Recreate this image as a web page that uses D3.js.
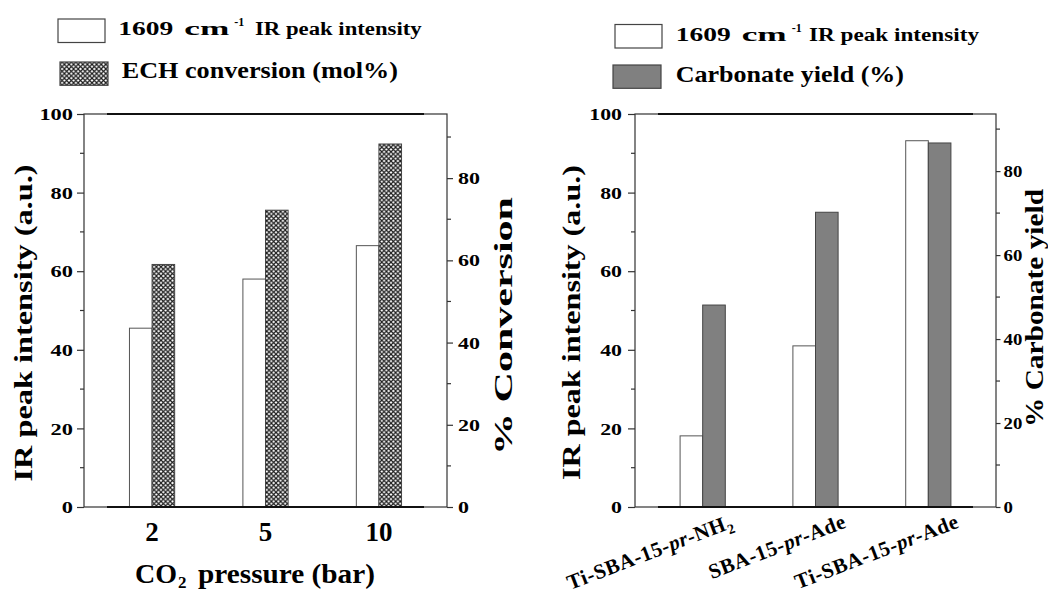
<!DOCTYPE html>
<html><head><meta charset="utf-8">
<script src="https://cdn.jsdelivr.net/npm/d3@7"></script>
<style>
body{margin:0;background:#fff;}
svg{display:block;}
text{font-family:"Liberation Serif","Times New Roman",serif;font-weight:bold;fill:#000;}
</style></head><body>
<svg id="c" width="1048" height="596"></svg>
<script>
// ---- data ----
const pressures = ["2", "5", "10"];
const irByPressure = [45.5, 58.0, 66.5];
const conversion = [59.0, 72.2, 88.3];
const samples = ["Ti-SBA-15-pr-NH2", "SBA-15-pr-Ade", "Ti-SBA-15-pr-Ade"];
const irBySample = [18.1, 41.0, 93.2];
const carbonateYield = [48.1, 70.2, 86.7];
const irTicks = [0, 20, 40, 60, 80, 100];
const irMinorTicks = [10, 30, 50, 70, 90];
const pctTicks = [0, 20, 40, 60, 80];
const pctMinorTicks = [10, 30, 50, 70, 90];

const svg = d3.select("#c");
const defs = svg.append("defs");
const P = 4.6;
const pat = defs.append("pattern").attr("id", "hatch").attr("patternUnits", "userSpaceOnUse")
  .attr("width", P).attr("height", P);
pat.append("rect").attr("width", P).attr("height", P).attr("fill", "#fff");
pat.append("path").attr("d", `M0,0L${P},${P}M${P},0L0,${P}`).attr("stroke", "#1a1a1a").attr("stroke-width", 1.15);

const frameColor = "#333";

function panel(cfg) {
  const g = svg.append("g");
  const x = d3.scalePoint().domain(cfg.cats).range([cfg.x0, cfg.x1]).padding(0.6);
  const yL = d3.scaleLinear().domain([0, 100]).range([cfg.y1, cfg.y0]);
  const yR = d3.scaleLinear().domain([0, cfg.rMax]).range([cfg.y1, cfg.y0]);
  const bw = 22.6;

  // bars
  g.selectAll(".b1").data(cfg.cats).join("rect")
    .attr("x", d => x(d) - bw).attr("width", bw)
    .attr("y", (d, i) => yL(cfg.v1[i])).attr("height", (d, i) => yL(0) - yL(cfg.v1[i]))
    .attr("fill", "#fff").attr("stroke", "#555").attr("stroke-width", 1);
  g.selectAll(".b2").data(cfg.cats).join("rect")
    .attr("x", d => x(d)).attr("width", bw)
    .attr("y", (d, i) => yR(cfg.v2[i])).attr("height", (d, i) => yR(0) - yR(cfg.v2[i]))
    .attr("fill", cfg.fill2).attr("stroke", "#444").attr("stroke-width", 1);

  // frame
  g.append("rect").attr("x", cfg.x0).attr("y", cfg.y0).attr("width", cfg.x1 - cfg.x0).attr("height", cfg.y1 - cfg.y0)
    .attr("fill", "none").attr("stroke", frameColor).attr("stroke-width", 1.2);
  [cfg.y0, cfg.y1].forEach(yy => g.append("line").attr("x1", cfg.x0 + 23).attr("x2", cfg.x1 - 23)
    .attr("y1", yy).attr("y2", yy).attr("stroke", "#111").attr("stroke-width", 2));

  // left axis
  const la = g.append("g").attr("transform", `translate(${cfg.x0},0)`)
    .call(d3.axisLeft(yL).tickValues(irTicks).tickSize(7).tickPadding(cfg.lPad));
  la.select(".domain").remove();
  la.selectAll("line").attr("stroke", frameColor).attr("stroke-width", 1.2);
  la.selectAll("text").attr("font-size", 17.5).style("font-family", "Liberation Serif").style("font-weight", "bold")
    .attr("textLength", d => String(d).length * cfg.lCh).attr("lengthAdjust", "spacingAndGlyphs");
  g.append("g").selectAll("line").data(irMinorTicks).join("line")
    .attr("x1", cfg.x0 - 4).attr("x2", cfg.x0).attr("y1", d => yL(d)).attr("y2", d => yL(d))
    .attr("stroke", frameColor).attr("stroke-width", 1.2);

  // right axis
  const ra = g.append("g").attr("transform", `translate(${cfg.x1},0)`)
    .call(d3.axisRight(yR).tickValues(pctTicks).tickSize(cfg.rTick).tickPadding(cfg.rPad));
  ra.select(".domain").remove();
  ra.selectAll("line").attr("stroke", frameColor).attr("stroke-width", 1.2);
  ra.selectAll("text").attr("font-size", 17.5).style("font-family", "Liberation Serif").style("font-weight", "bold")
    .attr("textLength", d => String(d).length * cfg.rCh).attr("lengthAdjust", "spacingAndGlyphs");
  g.append("g").selectAll("line").data(pctMinorTicks).join("line")
    .attr("x1", cfg.x1).attr("x2", cfg.x1 + 4).attr("y1", d => yR(d)).attr("y2", d => yR(d))
    .attr("stroke", frameColor).attr("stroke-width", 1.2);
  return { g, x };
}

const left = panel({ cats: pressures, v1: irByPressure, v2: conversion, fill2: "url(#hatch)",
  x0: 84, x1: 447, y0: 114, y1: 507, rMax: 95.6, lPad: 4, lCh: 11.2, rTick: 6, rPad: 5, rCh: 11 });
const right = panel({ cats: samples, v1: irBySample, v2: carbonateYield, fill2: "#808080",
  x0: 635, x1: 996, y0: 114, y1: 507, rMax: 93.6, lPad: 6, lCh: 10.9, rTick: 4.5, rPad: 3, rCh: 9.4 });

// x tick labels, left panel
left.g.selectAll(".xl").data(pressures).join("text")
  .attr("x", d => left.x(d)).attr("y", 541).attr("text-anchor", "middle")
  .attr("font-size", 27).text(d => d);

// x tick labels, right panel (rotated, italic "pr", subscript digit)
right.g.selectAll(".xl").data(samples).join("text")
  .attr("text-anchor", "end").attr("font-size", 21).attr("letter-spacing", 0.6)
  .attr("transform", d => `translate(${right.x(d) + 32},527) rotate(-21)`)
  .each(function (d) {
    const t = d3.select(this);
    const parts = d.split("pr");
    t.append("tspan").text(parts[0]);
    t.append("tspan").attr("font-style", "italic").text("pr");
    const m = parts[1].match(/^(.*?)(\d)$/);
    if (m) {
      t.append("tspan").text(m[1]);
      t.append("tspan").attr("font-size", 14).attr("dy", 5).text(m[2]);
    } else {
      t.append("tspan").text(parts[1]);
    }
  });

// axis titles
function vtitle(x, yc, len, txt, fs) {
  svg.append("text").attr("transform", `translate(${x},${yc}) rotate(-90)`)
    .attr("text-anchor", "middle").attr("font-size", fs)
    .attr("textLength", len).attr("lengthAdjust", "spacingAndGlyphs").text(txt);
}
vtitle(32, 323, 317, "IR peak intensity (a.u.)", 26);
vtitle(580, 322.5, 315, "IR peak intensity (a.u.)", 26);
vtitle(512, 326, 258, "% Conversion", 26);
vtitle(1043, 308, 238, "% Carbonate yield", 26);

// x title, left
svg.append("text").attr("x", 135).attr("y", 583).attr("font-size", 28)
  .attr("textLength", 42).attr("lengthAdjust", "spacingAndGlyphs").text("CO");
svg.append("text").attr("x", 178).attr("y", 588).attr("font-size", 17).text("2");
svg.append("text").attr("x", 198).attr("y", 583).attr("font-size", 28)
  .attr("textLength", 177).attr("lengthAdjust", "spacingAndGlyphs").text("pressure (bar)");

// legends
function legendIR(bx, by, tx, ty, l2x, l2) {
  svg.append("rect").attr("x", bx).attr("y", by).attr("width", 47).attr("height", 23.5)
    .attr("fill", "#fff").attr("stroke", "#444").attr("stroke-width", 1.2);
  svg.append("text").attr("x", tx).attr("y", ty).attr("font-size", 18)
    .attr("textLength", 55).attr("lengthAdjust", "spacingAndGlyphs").text("1609");
  svg.append("text").attr("x", tx + 66).attr("y", ty).attr("font-size", 18)
    .attr("textLength", 45).attr("lengthAdjust", "spacingAndGlyphs").text("cm");
  svg.append("text").attr("x", tx + 116).attr("y", ty - 9).attr("font-size", 12).text("-1");
  svg.append("text").attr("x", l2x).attr("y", ty).attr("font-size", 18)
    .attr("textLength", l2).attr("lengthAdjust", "spacingAndGlyphs").text("IR peak intensity");
}
legendIR(58, 19, 118.3, 35.3, 255, 166.7);
legendIR(615, 24.5, 675.7, 41, 809, 170);

svg.append("rect").attr("x", 60).attr("y", 62).attr("width", 48).attr("height", 23.3)
  .attr("fill", "url(#hatch)").attr("stroke", "#444").attr("stroke-width", 1.2);
svg.append("text").attr("x", 121.7).attr("y", 78.3).attr("font-size", 23)
  .attr("textLength", 276.3).attr("lengthAdjust", "spacingAndGlyphs").text("ECH conversion (mol%)");
svg.append("rect").attr("x", 613).attr("y", 65).attr("width", 48).attr("height", 23.3)
  .attr("fill", "#808080").attr("stroke", "#444").attr("stroke-width", 1.2);
svg.append("text").attr("x", 675.7).attr("y", 81.5).attr("font-size", 23)
  .attr("textLength", 228.3).attr("lengthAdjust", "spacingAndGlyphs").text("Carbonate yield (%)");
</script>
</body></html>
